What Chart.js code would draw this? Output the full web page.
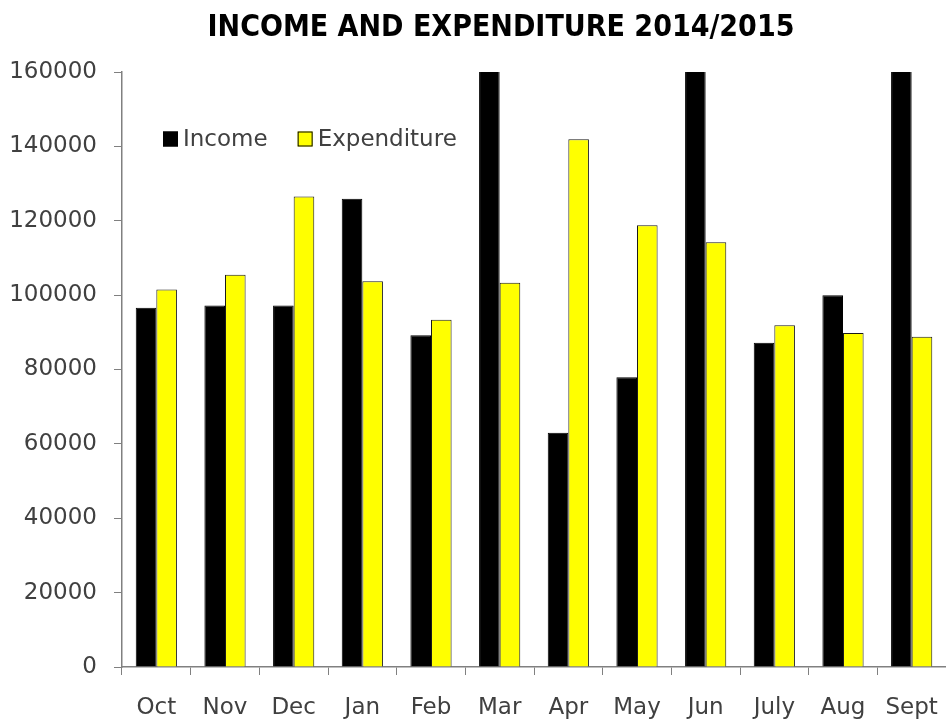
<!DOCTYPE html>
<html>
<head>
<meta charset="utf-8">
<script src="https://cdn.jsdelivr.net/npm/chart.js@4.4.1/dist/chart.umd.min.js"></script>
<style>
  html, body { margin: 0; padding: 0; background: #fff; }
  #wrap { width: 946px; height: 721px; position: relative; }
</style>
</head>
<body>
<div id="wrap"><canvas id="chart"></canvas></div>
<script>
const months = ['Oct', 'Nov', 'Dec', 'Jan', 'Feb', 'Mar', 'Apr', 'May', 'Jun', 'July', 'Aug', 'Sept'];
// Mar, Jun and Sept income run off the top of the axis in the original
const income = [96600, 97200, 97200, 125900, 89200, 175000, 63000, 77900, 172000, 87200, 100000, 170000];
const expenditure = [101500, 105500, 126500, 103700, 93400, 103300, 141900, 118800, 114200, 91900, 89800, 88800];
const yMin = 0;
const yMax = 160000;
const yStep = 20000;

const labelFont = '"DejaVu Sans", sans-serif';
const textGrey = '#404040';
const axisGrey = '#808080';

// legend sits inside the plot, top-left, like the spreadsheet one
const insideLegend = {
    id: 'insideLegend',
    afterDraw(chart) {
        const ctx = chart.ctx;
        const area = chart.chartArea;
        let x = area.left + 41;
        const y = area.top + 67;
        ctx.save();
        ctx.font = '23px ' + labelFont;
        ctx.textBaseline = 'middle';
        ctx.textAlign = 'left';
        chart.data.datasets.forEach(ds => {
            ctx.fillStyle = ds.backgroundColor;
            ctx.fillRect(x, y - 7.5, 15, 15);
            ctx.strokeStyle = '#000';
            ctx.lineWidth = 1;
            ctx.strokeRect(x + 0.5, y - 7, 14, 14);
            x += 20;
            ctx.fillStyle = textGrey;
            ctx.fillText(ds.label, x, y + 1);
            x += ctx.measureText(ds.label).width + 30;
        });
        ctx.restore();
    }
};

// nudge the title so it sits where the original one does
const titleShift = {
    id: 'titleShift',
    afterLayout(chart) {
        const t = chart.titleBlock;
        if (t) { t.left += 28; t.right += 28; }
    }
};

new Chart(document.getElementById('chart'), {
    type: 'bar',
    data: {
        labels: months,
        datasets: [
            {
                label: 'Income',
                data: income,
                backgroundColor: '#000000',
                borderColor: '#000000',
                borderWidth: 1
            },
            {
                label: 'Expenditure',
                data: expenditure,
                backgroundColor: '#FFFF00',
                borderColor: '#1a1a1a',
                borderWidth: 1
            }
        ]
    },
    options: {
        responsive: true,
        maintainAspectRatio: false,
        animation: false,
        layout: { padding: 0 },
        datasets: {
            bar: { categoryPercentage: 0.6, barPercentage: 1.0 }
        },
        scales: {
            x: {
                grid: {
                    display: true,
                    drawOnChartArea: false,
                    drawTicks: true,
                    tickLength: 8,
                    color: axisGrey,
                    offset: true
                },
                border: { display: true, color: axisGrey, width: 1.5 },
                ticks: {
                    color: textGrey,
                    font: { family: labelFont, size: 23 },
                    padding: 19,
                    maxRotation: 0,
                    autoSkip: false
                },
                afterFit(scale) {
                    scale.height = 54;
                    scale.paddingLeft = 0;
                    scale.paddingRight = 0;
                }
            },
            y: {
                min: yMin,
                max: yMax,
                grid: {
                    display: true,
                    drawOnChartArea: false,
                    drawTicks: true,
                    tickLength: 8,
                    color: axisGrey
                },
                border: { display: true, color: axisGrey, width: 1.5 },
                ticks: {
                    stepSize: yStep,
                    color: textGrey,
                    font: { family: labelFont, size: 23 },
                    padding: 17,
                    callback: v => String(v)
                },
                afterFit(scale) {
                    scale.width = 122;
                }
            }
        },
        plugins: {
            legend: { display: false },
            tooltip: { enabled: false },
            title: {
                display: true,
                text: 'INCOME AND EXPENDITURE 2014/2015',
                color: '#000',
                font: { family: '"DejaVu Sans Condensed", "DejaVu Sans", sans-serif', size: 30, weight: 'bold', lineHeight: 1.2 },
                padding: { top: 10, bottom: 26 }
            }
        }
    },
    plugins: [insideLegend, titleShift]
});
</script>
</body>
</html>
